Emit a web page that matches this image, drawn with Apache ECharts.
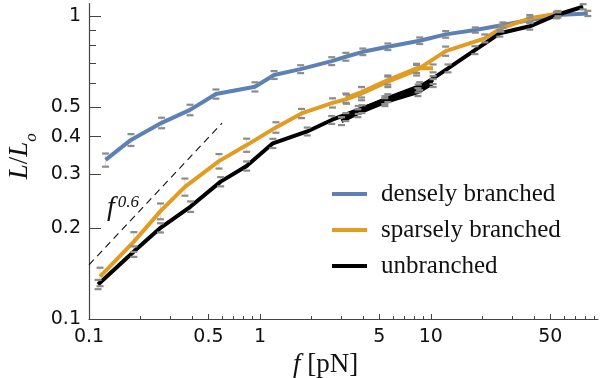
<!DOCTYPE html>
<html>
<head>
<meta charset="utf-8">
<script src="https://cdn.jsdelivr.net/npm/echarts@6/dist/echarts.min.js"></script>
<style>
  html, body { margin: 0; padding: 0; background: #fff; }
  #chart { width: 610px; height: 378px; }
</style>
</head>
<body>
<div id="chart"></div>
<script>
// force f [pN] and relative extension L/Lo
const denseF = [0.125, 0.176, 0.266, 0.39, 0.553, 0.935, 1.21, 1.73, 2.63, 3.18, 4.0, 5.6, 8.6, 12.2, 18.2, 26.4, 37.9, 55.3, 82.8]
const denseL = [0.335, 0.39, 0.444, 0.49, 0.553, 0.584, 0.639, 0.668, 0.71, 0.734, 0.762, 0.792, 0.829, 0.87, 0.899, 0.934, 0.97, 1.008, 1.02]
const denseErr = [0.05, 0.045, 0.04, 0.04, 0.035, 0.035, 0.03, 0.03, 0.03, 0.03, 0.025, 0.025, 0.025, 0.025, 0.02, 0.02, 0.02, 0.02, 0.02]

const sparseF = [0.116, 0.183, 0.262, 0.364, 0.576, 0.836, 1.24, 1.75, 2.66, 3.21, 3.93, 5.6, 8.25, 12.2, 20.7, 25.7, 37.9, 55.5]
const sparseL = [0.138, 0.18, 0.227, 0.273, 0.332, 0.375, 0.429, 0.477, 0.517, 0.532, 0.555, 0.607, 0.663, 0.766, 0.844, 0.911, 0.983, 1.019]
const sparseErr = [0.07, 0.075, 0.06, 0.065, 0.055, 0.05, 0.04, 0.035, 0.035, 0.035, 0.05, 0.04, 0.04, 0.035, 0.03, 0.025, 0.025, 0.02]

const sparse2F = [3.18, 3.93, 5.6, 8.25, 10.3]
const sparse2L = [0.536, 0.561, 0.615, 0.672, 0.672]
const sparse2Err = [0.035, 0.04, 0.035, 0.035, 0.03]

const unbrF = [0.113, 0.183, 0.262, 0.393, 0.589, 0.836, 1.19, 1.89, 2.63, 3.76, 5.38, 8.43, 12.6, 18.1, 25.3, 37.9, 54.3, 77.7]
const unbrL = [0.13, 0.167, 0.2, 0.235, 0.284, 0.32, 0.38, 0.416, 0.454, 0.49, 0.528, 0.577, 0.672, 0.772, 0.877, 0.925, 1.008, 1.073]
const unbrErr = [0.035, 0.04, 0.035, 0.04, 0.035, 0.035, 0.035, 0.03, 0.03, 0.03, 0.03, 0.03, 0.03, 0.03, 0.025, 0.025, 0.025, 0.02]

const unbr2F = [3.0, 3.74, 5.38, 8.4, 10.3]
const unbr2L = [0.45, 0.478, 0.52, 0.561, 0.601]
const unbr2Err = [0.03, 0.03, 0.03, 0.03, 0.03]

const unbr3F = [3.18, 3.95, 5.6, 8.6, 10.3]
const unbr3L = [0.464, 0.493, 0.536, 0.587, 0.615]
const unbr3Err = [0.03, 0.03, 0.03, 0.03, 0.03]

// f^0.6 guide line endpoints
const guideF = [0.1, 0.6]
const guideL = [0.151, 0.443]

const xMajor = [0.1, 0.5, 1, 5, 10, 50]
const xMinor = [0.2, 0.3, 0.4, 0.6, 0.7, 0.8, 0.9, 2, 3, 4, 6, 7, 8, 9, 20, 30, 40, 60, 70, 80, 90]
const yMajor = [0.1, 0.2, 0.3, 0.4, 0.5, 1]
const yMinor = [0.6, 0.7, 0.8, 0.9]

const BLUE = "#5e81b5"
const ORANGE = "#e19c24"
const BLACK = "#000000"
const SERIF = "Liberation Serif"

const chart = echarts.init(document.getElementById("chart"))

const pairs = (xs, ys) => xs.map((x, i) => [x, ys[i]])
const fmt = (v) => String(Math.round(v * 1000) / 1000)

function lineSeries(name, xs, ys, color) {
  return {
    name: name,
    type: "line",
    data: pairs(xs, ys),
    symbol: "none",
    lineStyle: { color: color, width: 4 },
    itemStyle: { color: color },
    z: 3,
    silent: true,
  }
}

// light vertical stems behind the curves
function stemSeries(xs, ys, errs) {
  return {
    type: "custom",
    silent: true,
    z: 1,
    data: xs.map((x, i) => [x, ys[i] * (1 - errs[i]), ys[i] * (1 + errs[i])]),
    renderItem(params, api) {
      const lo = api.coord([api.value(0), api.value(1)])
      const hi = api.coord([api.value(0), api.value(2)])
      return {
        type: "line",
        shape: { x1: lo[0], y1: lo[1], x2: hi[0], y2: hi[1] },
        style: { stroke: "#dcdcdc", lineWidth: 1 },
      }
    },
  }
}

// grey caps drawn over the curves
function capSeries(xs, ys, errs) {
  return {
    type: "custom",
    silent: true,
    z: 5,
    data: xs.map((x, i) => [x, ys[i] * (1 - errs[i]), ys[i] * (1 + errs[i])]),
    renderItem(params, api) {
      const lo = api.coord([api.value(0), api.value(1)])
      const hi = api.coord([api.value(0), api.value(2)])
      const w = 3.5
      const st = { stroke: "#8c8c8c", lineWidth: 2.2 }
      return {
        type: "group",
        children: [
          { type: "line", shape: { x1: lo[0] - w, y1: lo[1], x2: lo[0] + w, y2: lo[1] }, style: st },
          { type: "line", shape: { x1: hi[0] - w, y1: hi[1], x2: hi[0] + w, y2: hi[1] }, style: st },
        ],
      }
    },
  }
}

const axisColor = "#444"
const labelStyle = { fontFamily: "DejaVu Sans", fontSize: 19, color: "#111", formatter: fmt }

const option = {
  backgroundColor: "#fff",
  animation: false,
  grid: { left: 89, right: 12, top: 3.5, bottom: 59, outerBoundsMode: "none", containLabel: false },
  legend: {
    orient: "vertical",
    left: 332,
    top: 181,
    padding: 0,
    icon: "rect",
    itemWidth: 35,
    itemHeight: 4,
    itemGap: 10,
    data: ["densely branched", "sparsely branched", "unbranched"],
    textStyle: { fontFamily: SERIF, fontSize: 25, color: "#111", lineHeight: 26, padding: [0, 0, 0, 9] },
  },
  xAxis: [
    {
      type: "log",
      logBase: 10,
      min: 0.1,
      max: 95,
      position: "bottom",
      axisLine: { show: true, lineStyle: { color: axisColor, width: 1.2 } },
      axisTick: { inside: true, length: 5, customValues: xMajor, lineStyle: { color: axisColor } },
      axisLabel: Object.assign({ customValues: xMajor, margin: 9 }, labelStyle),
      splitLine: { show: false },
      minorTick: { show: false },
      name: "{i|f}{n| [pN]}",
      nameLocation: "middle",
      nameGap: 24,
      nameTextStyle: {
        padding: [0, 36, 0, 0],
        rich: {
          i: { fontFamily: SERIF, fontStyle: "italic", fontSize: 27, color: "#111" },
          n: { fontFamily: SERIF, fontSize: 27, color: "#111" },
        },
      },
    },
    {
      type: "log",
      logBase: 10,
      min: 0.1,
      max: 95,
      position: "bottom",
      axisLine: { show: false },
      axisTick: { inside: true, length: 3, customValues: xMinor, lineStyle: { color: axisColor } },
      axisLabel: { show: false },
      splitLine: { show: false },
    },
  ],
  yAxis: [
    {
      type: "log",
      logBase: 10,
      min: 0.1,
      max: 1.1,
      position: "left",
      axisLine: { show: true, lineStyle: { color: axisColor, width: 1.2 } },
      axisTick: { inside: true, length: 12, customValues: yMajor, lineStyle: { color: axisColor } },
      axisLabel: Object.assign({ customValues: yMajor, margin: 8 }, labelStyle),
      splitLine: { show: false },
      minorTick: { show: false },
      name: "{i|L}{n|/}{i|L}{s|o}",
      nameLocation: "middle",
      nameGap: 47,
      nameTextStyle: {
        padding: [0, 0, 0, 10],
        rich: {
          i: { fontFamily: SERIF, fontStyle: "italic", fontSize: 27, color: "#111" },
          n: { fontFamily: SERIF, fontSize: 27, color: "#111" },
          s: { fontFamily: SERIF, fontStyle: "italic", fontSize: 17, color: "#111", verticalAlign: "bottom", padding: [0, 0, -6, 0] },
        },
      },
    },
    {
      type: "log",
      logBase: 10,
      min: 0.1,
      max: 1.1,
      position: "left",
      axisLine: { show: false },
      axisTick: { inside: true, length: 7, customValues: yMinor, lineStyle: { color: axisColor } },
      axisLabel: { show: false },
      splitLine: { show: false },
    },
  ],
  graphic: [
    {
      type: "text",
      left: 107,
      top: 194,
      style: {
        text: "{f|f}{s|0.6}",
        rich: {
          f: { fontFamily: SERIF, fontStyle: "italic", fontSize: 28, fill: "#111" },
          s: { fontFamily: SERIF, fontStyle: "italic", fontSize: 17, fill: "#111", verticalAlign: "top", padding: [0, 0, 0, 3] },
        },
      },
    },
  ],
  series: [
    {
      name: "guide",
      type: "line",
      data: pairs(guideF, guideL),
      symbol: "none",
      lineStyle: { color: "#111", width: 1.1, type: [7, 5] },
      z: 2,
      silent: true,
    },
    stemSeries(denseF, denseL, denseErr),
    stemSeries(sparseF, sparseL, sparseErr),
    stemSeries(unbrF, unbrL, unbrErr),
    lineSeries("densely branched", denseF, denseL, BLUE),
    lineSeries("sparsely branched", sparseF, sparseL, ORANGE),
    lineSeries("sparsely branched (2)", sparse2F, sparse2L, ORANGE),
    lineSeries("unbranched", unbrF, unbrL, BLACK),
    lineSeries("unbranched (2)", unbr2F, unbr2L, BLACK),
    lineSeries("unbranched (3)", unbr3F, unbr3L, BLACK),
    capSeries(denseF, denseL, denseErr),
    capSeries(sparseF, sparseL, sparseErr),
    capSeries(sparse2F, sparse2L, sparse2Err),
    capSeries(unbrF, unbrL, unbrErr),
    capSeries(unbr2F, unbr2L, unbr2Err),
    capSeries(unbr3F, unbr3L, unbr3Err),
  ],
}

chart.setOption(option)
</script>
</body>
</html>
